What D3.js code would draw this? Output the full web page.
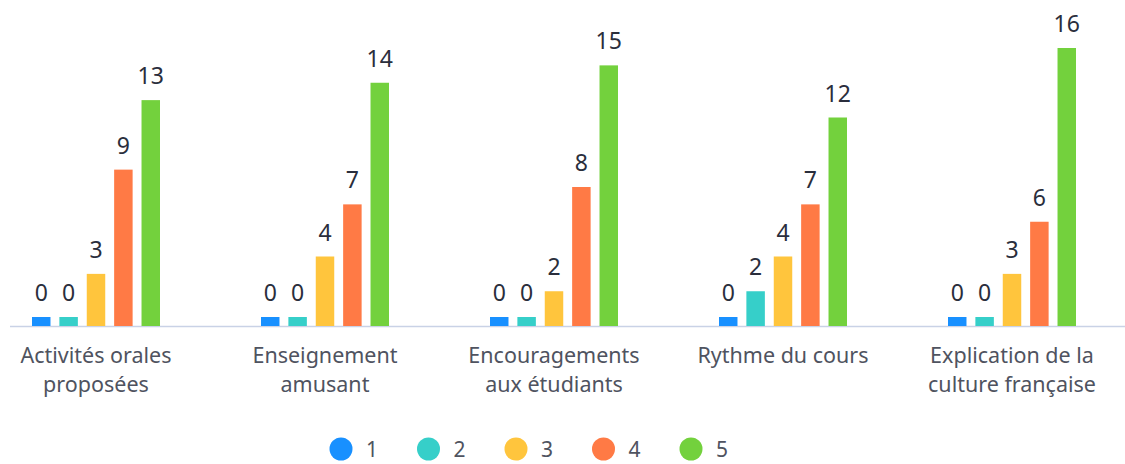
<!DOCTYPE html>
<html><head><meta charset="utf-8">
<script src="https://cdn.jsdelivr.net/npm/d3@7"></script>
<style>
html,body{margin:0;padding:0;background:#fff;}
svg{display:block;font-family:"Noto Sans","Open Sans",sans-serif;}
</style></head>
<body>
<svg id="chart" width="1125" height="464"></svg>
<script>
const categories = [["Activités orales","proposées"],["Enseignement","amusant"],["Encouragements","aux étudiants"],["Rythme du cours"],["Explication de la","culture française"]];
const seriesNames = ["1","2","3","4","5"];
const s1 = [0,0,0,0,0];
const s2 = [0,0,0,2,0];
const s3 = [3,4,2,4,3];
const s4 = [9,7,8,7,6];
const s5 = [13,14,15,12,16];
const seriesValues = [s1,s2,s3,s4,s5];
const colors = ["#1890ff","#36cfc9","#ffc53d","#ff7a45","#73d13d"];

const svg = d3.select("#chart");
const baseY = 326;
const x0 = d3.scaleBand().domain(d3.range(categories.length)).range([-18.5, 1126.5]).paddingInner(0).paddingOuter(0);
const x1 = d3.scaleBand().domain(seriesNames).range([x0.bandwidth()/2 - 64, x0.bandwidth()/2 + 64]).paddingInner(0.325).paddingOuter(0);
const y = d3.scaleLinear().domain([0,16]).range([baseY, 48]);

// axis line
svg.append("line").attr("x1",10).attr("x2",1125).attr("y1",baseY+0.5).attr("y2",baseY+0.5)
  .attr("stroke","#c9d2e6").attr("stroke-width",1.5);

const groups = svg.selectAll("g.grp").data(categories).enter().append("g")
  .attr("transform",(d,i)=>`translate(${x0(i)},0)`);

groups.each(function(cat, ci){
  const g = d3.select(this);
  seriesNames.forEach((s, si)=>{
    const v = seriesValues[si][ci];
    const h = Math.max(baseY - y(v), 9);
    g.append("rect").attr("x", x1(s)).attr("width", x1.bandwidth())
      .attr("y", baseY - h).attr("height", h).attr("fill", colors[si]);
    g.append("text").attr("x", x1(s)+x1.bandwidth()/2).attr("y", baseY - h - 16)
      .attr("text-anchor","middle").attr("font-size",23).attr("fill","#2a2e3c").text(v);
  });
  const t = g.append("text").attr("text-anchor","middle").attr("font-size",21.5).attr("fill","#4f5360");
  cat.forEach((line, li)=>{
    t.append("tspan").attr("x", x0.bandwidth()/2).attr("y", 363 + li*29).text(line);
  });
});

// legend
const legend = svg.append("g");
seriesNames.forEach((s,i)=>{
  const cx = 341 + i*87.5;
  legend.append("circle").attr("cx",cx).attr("cy",449).attr("r",11.5).attr("fill",colors[i]);
  legend.append("text").attr("x",cx+25).attr("y",457).attr("font-size",21).attr("fill","#4f5360").text(s);
});
</script>
</body></html>
